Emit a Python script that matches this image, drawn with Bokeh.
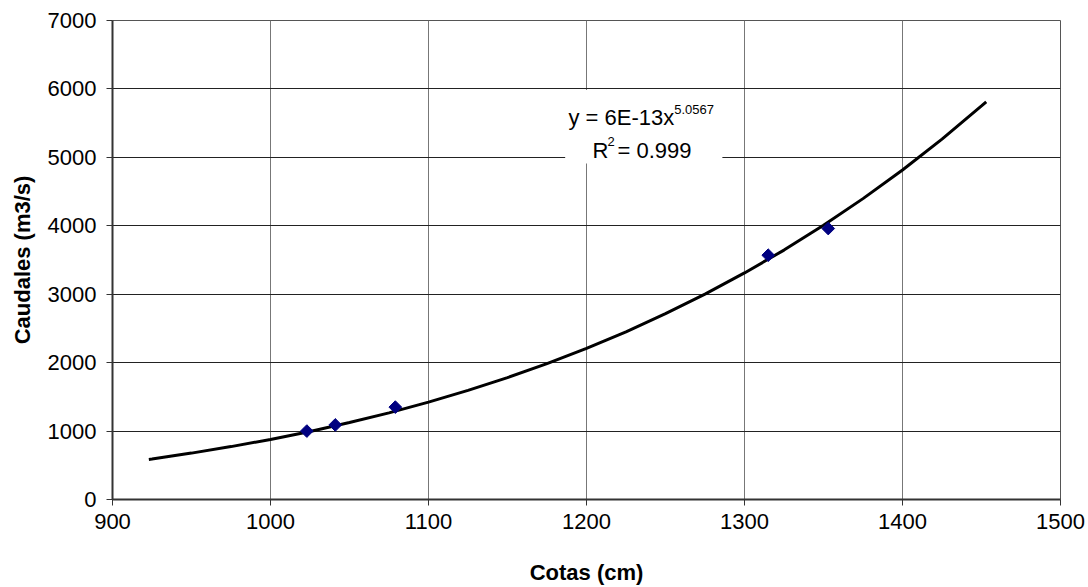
import math
from bokeh.plotting import figure
from bokeh.models import Range1d, FixedTicker, Label, BoxAnnotation
from bokeh.embed import file_html
from bokeh.resources import INLINE

# Trendline (power fit)
trend_x = [923, 925, 950, 975, 1000, 1025, 1050, 1075, 1100, 1125, 1150, 1175,
           1200, 1225, 1250, 1275, 1300, 1325, 1350, 1375, 1400, 1425, 1450, 1453]
trend_y = [586, 592, 678, 773, 878, 995, 1125, 1266, 1423, 1594, 1781, 1986,
           2209, 2451, 2715, 3001, 3311, 3645, 4007, 4397, 4815, 5266, 5751, 5811]

# Observed points
obs_x = [1023, 1041, 1079, 1315, 1353]
obs_y = [1000, 1090, 1350, 3570, 3960]

x_ticks = [900, 1000, 1100, 1200, 1300, 1400, 1500]
y_ticks = [0, 1000, 2000, 3000, 4000, 5000, 6000, 7000]

eq_text = "y = 6E-13x"
eq_exp = "5.0567"
r2_base = "R"
r2_exp = "2"
r2_rest = "= 0.999"

FONT = "Liberation Sans"

p = figure(width=1088, height=587, output_backend="svg", toolbar_location=None,
           x_range=Range1d(900, 1500), y_range=Range1d(0, 7000),
           min_border_left=112, min_border_right=28, min_border_top=20,
           min_border_bottom=87)

p.background_fill_color = "white"
p.border_fill_color = "white"
p.outline_line_color = "#555555"
p.outline_line_width = 1

p.xaxis.ticker = FixedTicker(ticks=x_ticks)
p.yaxis.ticker = FixedTicker(ticks=y_ticks)

for ax in (p.xaxis[0], p.yaxis[0]):
    ax.axis_line_color = "#333333"
    ax.axis_line_width = 2
    ax.major_tick_line_color = "#333333"
    ax.major_tick_out = 6
    ax.major_tick_in = 0
    ax.minor_tick_line_color = None
    ax.major_label_text_font = FONT
    ax.major_label_text_font_size = "22px"
    ax.major_label_text_color = "black"
    ax.axis_label_text_font = FONT
    ax.axis_label_text_font_size = "22px"
    ax.axis_label_text_font_style = "bold"
    ax.axis_label_text_color = "black"

p.xaxis.axis_label = "Cotas (cm)"
p.yaxis.axis_label = "Caudales (m3/s)"
p.xaxis.major_label_standoff = 8
p.yaxis.major_label_standoff = 10
p.xaxis.axis_label_standoff = 28
p.yaxis.axis_label_standoff = 10

p.xgrid.grid_line_color = "#777777"
p.ygrid.grid_line_color = "#222222"
p.xgrid.grid_line_width = 1
p.ygrid.grid_line_width = 1

p.line(trend_x, trend_y, line_color="black", line_width=3)
p.scatter(obs_x, obs_y, marker="square", angle=math.pi / 4, size=9,
          fill_color="#000080", line_color="#000080")

# white box behind the equation
p.add_layout(BoxAnnotation(left=1186.5, right=1286, top=5985, bottom=4910,
                           fill_color="white", fill_alpha=1.0, line_color=None,
                           level="underlay"))

def lab(x, y, t, size):
    p.add_layout(Label(x=x, y=y, text=t, text_font=FONT, text_font_size=size,
                       text_color="black", text_align="left",
                       text_baseline="alphabetic"))

lab(1188.6, 5585, eq_text, "22px")
lab(1255.5, 5702, eq_exp, "13px")
lab(1203.8, 5104, r2_base, "22px")
lab(1213.3, 5230, r2_exp, "13px")
lab(1219.6, 5104, r2_rest, "22px")

open("out.html", "w").write(file_html(p, INLINE))
